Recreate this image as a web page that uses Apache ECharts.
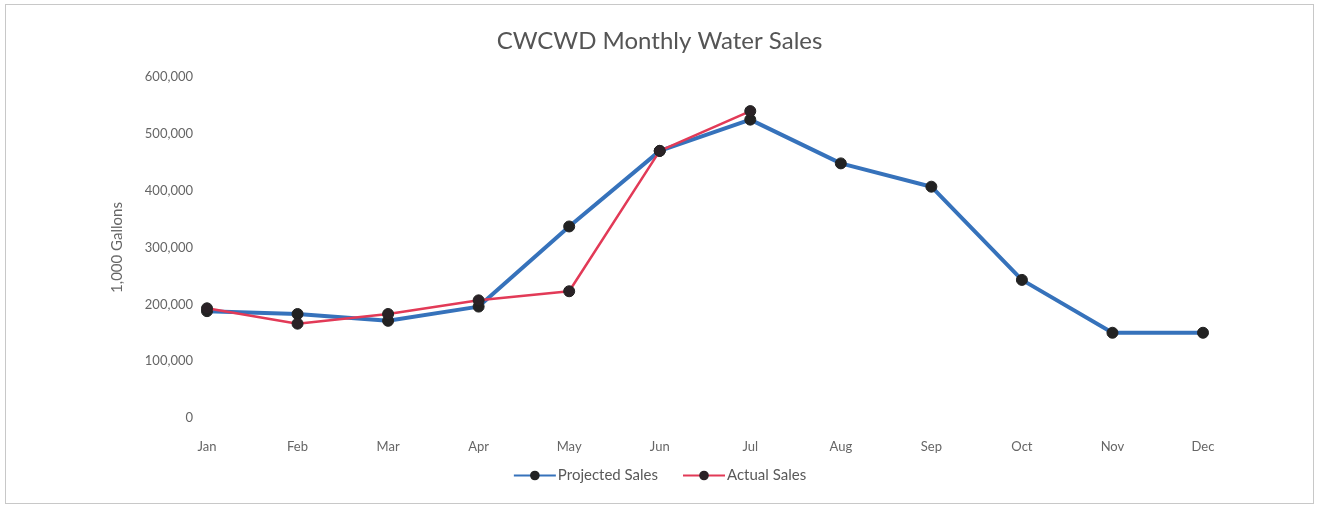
<!DOCTYPE html>
<html>
<head>
<meta charset="utf-8">
<script src="https://cdn.jsdelivr.net/npm/echarts@6/dist/echarts.min.js"></script>
<style>
html,body{margin:0;padding:0;background:#fff;}
#wrap{position:absolute;left:5px;top:4px;width:1307px;height:498px;border:1px solid #c8c8c8;}
#chart{position:absolute;left:0;top:0;width:1319px;height:508px;}
</style>
</head>
<body>
<div id="wrap"></div>
<div id="chart"></div>
<script>
const months = ['Jan','Feb','Mar','Apr','May','Jun','Jul','Aug','Sep','Oct','Nov','Dec'];
const projectedSales = [188000, 183000, 171000, 196000, 337000, 470000, 525000, 448000, 407000, 243000, 150000, 150000];
const actualSales = [193000, 166000, 183000, 207000, 223000, 470000, 540000, null, null, null, null, null];
const yTicks = [0, 100000, 200000, 300000, 400000, 500000, 600000];

const font = 'Lato, "Open Sans", sans-serif';
const chart = echarts.init(document.getElementById('chart'));
chart.setOption({
  animation: false,
  title: {
    text: 'CWCWD Monthly Water Sales',
    left: 'center',
    top: 24,
    textStyle: {fontFamily: font, fontSize: 24, fontWeight: 'normal', color: '#555'}
  },
  legend: {
    bottom: 20,
    left: 'center',
    itemWidth: 42,
    itemHeight: 12,
    itemGap: 24,
    textStyle: {fontFamily: font, fontSize: 15, color: '#595959', padding: [0, 0, 0, -3]},
    data: ['Projected Sales', 'Actual Sales']
  },
  grid: {left: 207, right: 116, top: 77, bottom: 90},
  xAxis: {
    type: 'category',
    data: months,
    boundaryGap: false,
    axisLine: {show: false},
    axisTick: {show: false},
    axisLabel: {fontFamily: font, fontSize: 13, color: '#666', margin: 22}
  },
  yAxis: {
    type: 'value',
    min: yTicks[0],
    max: yTicks[yTicks.length - 1],
    interval: 100000,
    name: '1,000 Gallons',
    nameLocation: 'middle',
    nameGap: 82,
    nameTextStyle: {fontFamily: font, fontSize: 15, color: '#666'},
    splitLine: {show: false},
    axisLine: {show: false},
    axisTick: {show: false},
    axisLabel: {
      fontFamily: font, fontSize: 13, color: '#666', margin: 14,
      formatter: v => v.toLocaleString('en-US')
    }
  },
  series: [
    {
      name: 'Projected Sales',
      type: 'line',
      data: projectedSales,
      symbol: 'circle',
      symbolSize: 11,
      lineStyle: {color: '#3672bb', width: 4},
      itemStyle: {color: '#222', borderColor: '#222'},
      z: 2
    },
    {
      name: 'Actual Sales',
      type: 'line',
      data: actualSales,
      symbol: 'circle',
      symbolSize: 11,
      lineStyle: {color: '#e23a57', width: 2.5},
      itemStyle: {color: '#2a2226', borderColor: '#222'},
      z: 3
    }
  ]
});
</script>
</body>
</html>
